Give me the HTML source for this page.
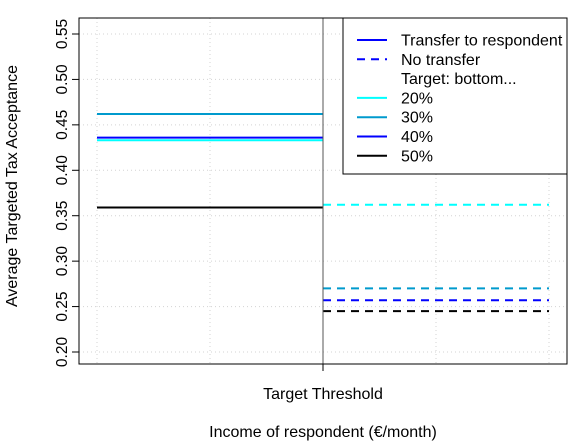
<!DOCTYPE html>
<html><head><meta charset="utf-8"><style>body{margin:0;background:#fff}svg{display:block;font-family:"Liberation Sans",sans-serif}</style></head>
<body>
<svg id="c" width="588" height="443"></svg>
<script>
const yTicks=[0.20,0.25,0.30,0.35,0.40,0.45,0.50,0.55];
const seriesNames=["20%","30%","40%","50%"];
const seriesColors=["#00ffff","#009acd","#0000ff","#000000"];
const transferValues=[0.433,0.462,0.436,0.359];
const noTransferValues=[0.362,0.270,0.257,0.245];
const legendLabels=["Transfer to respondent","No transfer","Target: bottom...","20%","30%","40%","50%"];
const NS="http://www.w3.org/2000/svg";
const svg=document.getElementById('c');
function el(t,a,p){const e=document.createElementNS(NS,t);for(const k in a)e.setAttribute(k,a[k]);(p||svg).appendChild(e);return e;}
const L=79,R=567,T=18,B=364;
const y=v=>352-(v-0.20)/0.05*45.43;
const x=u=>97+u*113;
for(let i=0;i<5;i++){const g=el('line',{x1:x(i),x2:x(i),y1:T,y2:B,stroke:'#d3d3d3','stroke-dasharray':'1,3'});}
yTicks.forEach(v=>{const g=el('line',{x1:L,x2:R,y1:y(v),y2:y(v),stroke:'#d3d3d3','stroke-dasharray':'1,3'});
const tk=el('line',{x1:L-7,x2:L,y1:y(v),y2:y(v),stroke:'#000'});
const t=el('text',{x:0,y:0,'font-size':15.5,'text-anchor':'middle',transform:`translate(${L-12},${y(v)}) rotate(-90)`});t.textContent=v.toFixed(2);});
seriesNames.forEach((n,i)=>{
const a=el('line',{x1:x(0),x2:x(2),y1:y(transferValues[i]),y2:y(transferValues[i]),stroke:seriesColors[i],'stroke-width':2});
const b=el('line',{x1:x(2),x2:x(4),y1:y(noTransferValues[i]),y2:y(noTransferValues[i]),stroke:seriesColors[i],'stroke-width':2,'stroke-dasharray':'8,6'});});
const v=el('line',{x1:x(2),x2:x(2),y1:T,y2:B,stroke:'#555'});
const f=el('rect',{x:L,y:T,width:R-L,height:B-T,fill:'none',stroke:'#000'});
const xt=el('line',{x1:x(2),x2:x(2),y1:B,y2:B+7,stroke:'#000'});
const xl=el('text',{x:x(2),y:399,'font-size':16,'text-anchor':'middle'});xl.textContent='Target Threshold';
const xa=el('text',{x:323,y:437,'font-size':16,'text-anchor':'middle'});xa.textContent='Income of respondent (€/month)';
const ya=el('text',{x:0,y:0,'font-size':16,'text-anchor':'middle',transform:'translate(17,186) rotate(-90)'});ya.textContent='Average Targeted Tax Acceptance';
const lg=el('g',{});
el('rect',{x:343,y:18,width:224,height:156,fill:'#fff',stroke:'#000'},lg);
const lc=["#0000ff","#0000ff",null,...seriesColors];
legendLabels.forEach((s,i)=>{const yy=40+i*19.3;
if(lc[i]){const ln=el('line',{x1:357,x2:387,y1:yy,y2:yy,stroke:lc[i],'stroke-width':2,'stroke-dasharray':i==1?'8,6':'none'},lg);}
const t=el('text',{x:401,y:yy+5.5,'font-size':16},lg);t.textContent=s;});
</script>
</body></html>
